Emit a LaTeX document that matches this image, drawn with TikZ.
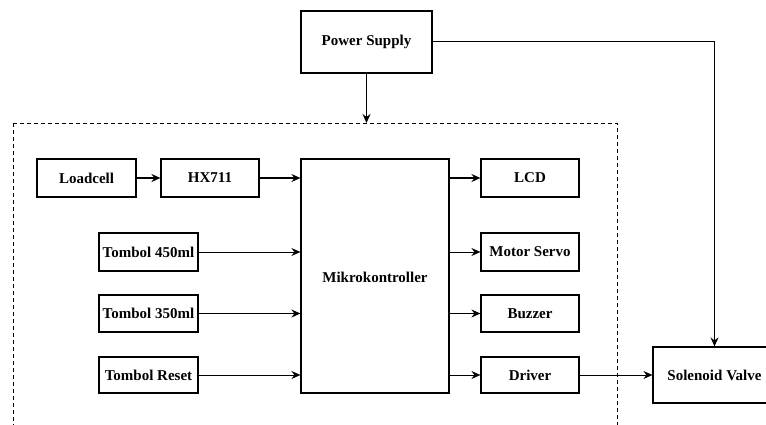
\documentclass[tikz,border=0pt]{standalone}
\usepackage{fontspec}
\setmainfont{Liberation Serif}
\usetikzlibrary{arrows.meta}
\begin{document}
\begin{tikzpicture}[x=1pt,y=-1pt,
  blk/.style={draw, line width=1.2pt, inner sep=0pt, font=\fontsize{15}{17}\selectfont\bfseries},
  con/.style={line width=1pt, -{Stealth[length=9pt,width=8pt,inset=3pt]}},
  wire/.style={line width=0.9pt}]
\useasboundingbox (0,0) rectangle (766,425);
\clip (0,0) rectangle (766,425);
\fill[white] (0,0) rectangle (766,425);
% dashed frame
\draw[dashed, line width=0.9pt, dash pattern=on 4pt off 3pt] (13,123) rectangle (617,445);
\coordinate (dtop) at (366.5,123);
% nodes
\node[blk, minimum width=131pt, minimum height=62pt] (ps) at (366.5,42) {Power Supply};
\node[blk, minimum width=99pt, minimum height=38pt] (load) at (86.5,178) {Loadcell};
\node[blk, minimum width=98pt, minimum height=38pt] (hx) at (210,178) {HX711};
\node[blk, minimum width=148pt, minimum height=234pt] (mcu) at (375,276) {};
\node[font=\fontsize{15}{17}\selectfont\bfseries] (mcutxt) at (375,277) {Mikrokontroller};
\node[blk, minimum width=98pt, minimum height=38pt] (lcd) at (530,178) {LCD};
\node[blk, minimum width=98pt, minimum height=38pt] (servo) at (530,252) {Motor Servo};
\node[blk, minimum width=98pt, minimum height=37pt] (buzz) at (530,313.5) {Buzzer};
\node[blk, minimum width=98pt, minimum height=36pt] (drv) at (530,375) {Driver};
\node[blk, minimum width=99pt, minimum height=38pt] (t450) at (148.5,252) {Tombol 450ml};
\node[blk, minimum width=99pt, minimum height=37pt] (t350) at (148.5,313.5) {Tombol 350ml};
\node[blk, minimum width=99pt, minimum height=36pt] (trst) at (148.5,375) {Tombol Reset};
\node[blk, minimum width=123pt, minimum height=56pt] (sol) at (714.5,375) {Solenoid Valve};
% connectors
\draw[con] (ps.south) -- (dtop);
\draw[con] (ps.east) -| (sol.north);
\draw[con, line width=1.4pt] (load) -- (hx);
\draw[con, line width=1.2pt] (hx) -- (hx -| mcu.west);
\draw[con] (t450) -- (t450 -| mcu.west);
\draw[con] (t350) -- (t350 -| mcu.west);
\draw[con] (trst) -- (trst -| mcu.west);
\draw[con, line width=1.2pt] (lcd -| mcu.east) -- (lcd);
\draw[con] (servo -| mcu.east) -- (servo);
\draw[con] (buzz -| mcu.east) -- (buzz);
\draw[con] (drv -| mcu.east) -- (drv);
\draw[con] (drv) -- (sol);
\end{tikzpicture}
\end{document}
